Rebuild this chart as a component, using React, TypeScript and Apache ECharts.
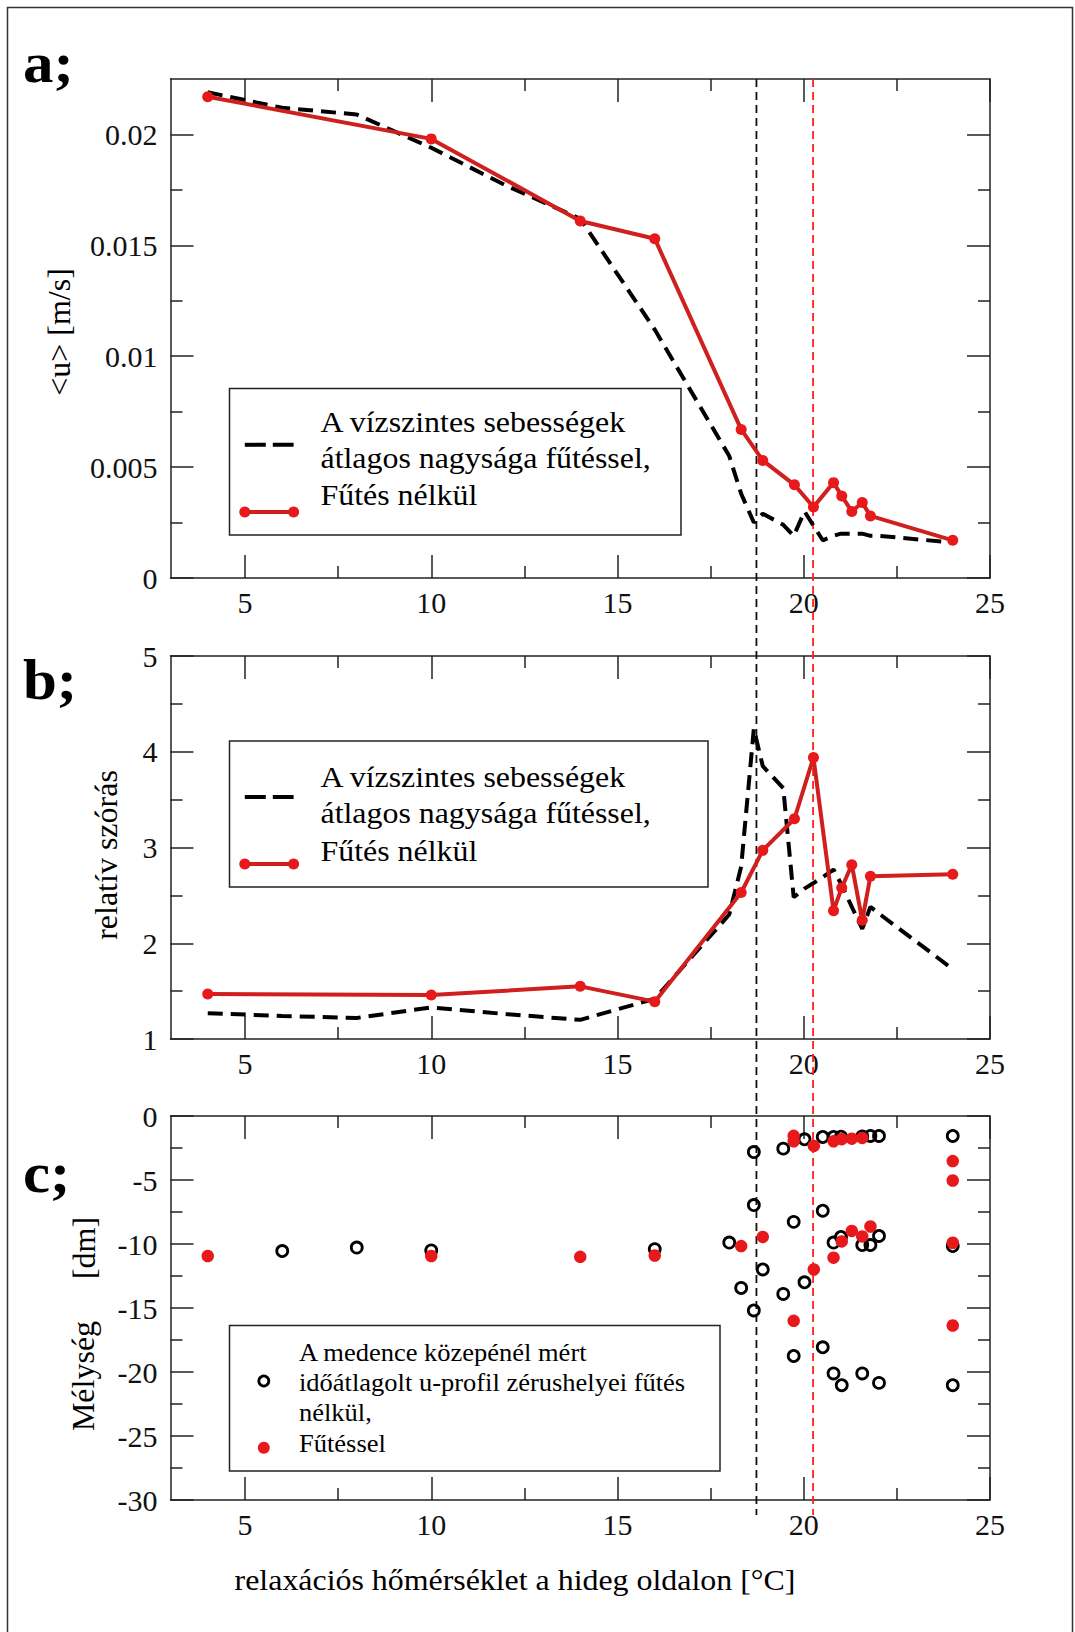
import React, { useEffect, useRef } from "react";
import * as echarts from "echarts";

// ---------- data ----------
const X_MIN = 3;
const X_MAX = 25;
const xMajorTicks = [5, 10, 15, 20, 25];
const xMinorTicks = [7.5, 12.5, 17.5, 22.5];

const aYMajor = [0, 0.005, 0.01, 0.015, 0.02];
const aYMinor = [0.0025, 0.0075, 0.0125, 0.0175];
const bYMajor = [1, 2, 3, 4, 5];
const bYMinor = [1.5, 2.5, 3.5, 4.5];
const cYMajor = [-30, -25, -20, -15, -10, -5, 0];
const cYMinor = [-27.5, -22.5, -17.5, -12.5, -7.5, -2.5];

// "Fűtés nélkül" (red, solid with markers)
const redX = [4, 10, 14, 16, 18.32, 18.9, 19.75, 20.26, 20.8, 21.02, 21.29, 21.57, 21.79, 24];
const aRedY = [0.0217, 0.0198, 0.0161, 0.0153, 0.0067, 0.0053, 0.0042, 0.0032, 0.0043, 0.0037, 0.003, 0.0034, 0.0028, 0.0017];
const bRedY = [1.47, 1.46, 1.55, 1.39, 2.53, 2.97, 3.3, 3.94, 2.34, 2.58, 2.82, 2.24, 2.7, 2.72];

// "fűtéssel" (black dashed)
const blackX = [4, 6, 8, 10, 12, 14, 16, 18, 18.32, 18.66, 18.9, 19.45, 19.73, 20.02, 20.51, 20.8, 21.0, 21.57, 21.79, 22.02, 24];
const aBlackY = [0.0219, 0.0212, 0.0209, 0.0194, 0.0177, 0.0162, 0.0112, 0.0055, 0.0038, 0.0025, 0.0029, 0.0024, 0.0019, 0.003, 0.0017, 0.0019, 0.002, 0.002, 0.0019, 0.0019, 0.0016];
const bBlackY = [1.27, 1.24, 1.22, 1.33, 1.26, 1.2, 1.42, 2.3, 2.8, 4.24, 3.85, 3.62, 2.48, 2.57, 2.69, 2.77, 2.62, 2.15, 2.38, 2.31, 1.73];

// panel c: zero crossings
const cBlackX = [6, 8, 10, 16, 18, 18.32, 18.66, 18.66, 18.66, 18.9, 19.45, 19.45, 19.73, 19.73, 20.02, 20.02, 20.51, 20.51, 20.51, 20.8, 20.8, 20.8, 21.0, 21.0, 21.02, 21.57, 21.57, 21.57, 21.79, 21.79, 22.02, 22.02, 22.02, 24, 24, 24];
const cBlackY = [-10.55, -10.28, -10.5, -10.4, -9.89, -13.43, -2.82, -6.96, -15.19, -11.99, -2.55, -13.9, -8.27, -18.75, -1.82, -12.99, -1.64, -7.4, -18.07, -1.64, -9.89, -20.11, -1.62, -9.45, -21.03, -1.6, -10.08, -20.11, -1.56, -10.08, -1.56, -9.37, -20.85, -1.56, -10.16, -21.03];
const cRedX = [4, 10, 14, 16, 18.32, 18.9, 19.73, 19.73, 19.73, 20.27, 20.27, 20.8, 20.8, 21.02, 21.02, 21.29, 21.29, 21.57, 21.57, 21.79, 24, 24, 24, 24];
const cRedY = [-10.94, -10.94, -11.0, -10.9, -10.16, -9.45, -1.55, -1.97, -16.0, -2.34, -11.99, -1.97, -11.07, -1.81, -9.8, -1.77, -8.98, -1.71, -9.41, -8.63, -3.52, -5.04, -9.9, -16.37];

// vertical reference lines (black, red)
const refLineX = [18.73, 20.25];

// ---------- styles ----------
const FONT = "Liberation Serif";
const AXIS_COLOR = "#222";
const RED_LINE = "#cf1f1f";
const RED_MARK = "#e8191b";

const pairs = (xs: number[], ys: number[]) => xs.map((x, i) => [x, ys[i]]);

const axisLineStyle = { color: AXIS_COLOR, width: 1.5 };

function makeAxes(g: number, isX: boolean, min: number, max: number, major: number[], minor: number[], labelMargin: number) {
  const common: any = { type: "value", gridIndex: g, min, max, splitLine: { show: false }, axisPointer: { show: false } };
  const p1 = isX ? "bottom" : "left";
  const p2 = isX ? "top" : "right";
  return [
    {
      ...common,
      position: p1,
      axisLine: { show: true, onZero: false, lineStyle: axisLineStyle },
      axisTick: { show: true, inside: true, length: 23, customValues: major, lineStyle: axisLineStyle },
      axisLabel: { show: true, customValues: major, fontSize: 30, fontFamily: FONT, fontWeight: "normal", color: "#111", margin: labelMargin },
    },
    {
      ...common,
      position: p1,
      axisLine: { show: false, onZero: false },
      axisTick: { show: true, inside: true, length: 12, customValues: minor, lineStyle: axisLineStyle },
      axisLabel: { show: false },
    },
    {
      ...common,
      position: p2,
      axisLine: { show: true, onZero: false, lineStyle: axisLineStyle },
      axisTick: { show: true, inside: true, length: 23, customValues: major, lineStyle: axisLineStyle },
      axisLabel: { show: false },
    },
    {
      ...common,
      position: p2,
      axisLine: { show: false, onZero: false },
      axisTick: { show: true, inside: true, length: 12, customValues: minor, lineStyle: axisLineStyle },
      axisLabel: { show: false },
    },
  ];
}

function txt(text: string, x: number, y: number, fontSize: number, opts: any = {}) {
  return {
    type: "text",
    x,
    y,
    z: 20,
    rotation: opts.rotation || 0,
    scaleX: opts.scaleX || 1,
    style: {
      text,
      fontSize,
      fontFamily: FONT,
      fontWeight: opts.bold ? "bold" : "normal",
      fill: "#000",
      align: opts.align || "left",
      verticalAlign: "middle",
    },
  };
}

function legendBox(x: number, y: number, w: number, h: number) {
  return {
    type: "rect",
    z: 15,
    shape: { x, y, width: w, height: h },
    style: { fill: "#fff", stroke: "#222", lineWidth: 1.5 },
  };
}

function lineLegend(blackY: number, redY: number, textYs: number[]) {
  const x1 = 244.8;
  const x2 = 293.6;
  return [
    {
      type: "line",
      z: 21,
      shape: { x1, y1: blackY, x2, y2: blackY },
      style: { stroke: "#000", lineWidth: 4, lineDash: [21, 7] },
    },
    {
      type: "line",
      z: 21,
      shape: { x1, y1: redY, x2, y2: redY },
      style: { stroke: RED_LINE, lineWidth: 4 },
    },
    { type: "circle", z: 22, shape: { cx: x1, cy: redY, r: 5.5 }, style: { fill: RED_MARK } },
    { type: "circle", z: 22, shape: { cx: x2, cy: redY, r: 5.5 }, style: { fill: RED_MARK } },
    txt("A vízszintes sebességek", 320.5, textYs[0], 29, { scaleX: 1.1 }),
    txt("átlagos nagysága fűtéssel,", 320.5, textYs[1], 29, { scaleX: 1.1 }),
    txt("Fűtés nélkül", 320.5, textYs[2], 29, { scaleX: 1.1 }),
  ];
}

const GRIDS = [
  { left: 170.5, top: 79, width: 819.5, height: 499 },
  { left: 170.5, top: 656, width: 819.5, height: 383 },
  { left: 170.5, top: 1116, width: 819.5, height: 384 },
];

export default function App() {
  const ref = useRef<HTMLDivElement>(null);

  useEffect(() => {
    document.body.style.margin = "0";
    const chart = echarts.init(ref.current!, undefined, { renderer: "svg" });

    const xAxis = [
      ...makeAxes(0, true, X_MIN, X_MAX, xMajorTicks, xMinorTicks, 9),
      ...makeAxes(1, true, X_MIN, X_MAX, xMajorTicks, xMinorTicks, 9),
      ...makeAxes(2, true, X_MIN, X_MAX, xMajorTicks, xMinorTicks, 9),
    ];
    const yAxis = [
      ...makeAxes(0, false, 0, 0.0225, aYMajor, aYMinor, 13),
      ...makeAxes(1, false, 1, 5, bYMajor, bYMinor, 13),
      ...makeAxes(2, false, -30, 0, cYMajor, cYMinor, 13),
    ];

    const dashedStyle = { color: "#000", width: 4, type: [15, 8] as any, cap: "butt" as any };
    const redLineStyle = { color: RED_LINE, width: 4 };

    const series: any[] = [
      {
        type: "line", xAxisIndex: 0, yAxisIndex: 0, data: pairs(blackX, aBlackY),
        symbol: "none", lineStyle: dashedStyle, z: 3, silent: true,
      },
      {
        type: "line", xAxisIndex: 0, yAxisIndex: 0, data: pairs(redX, aRedY),
        symbol: "circle", symbolSize: 11, lineStyle: redLineStyle, itemStyle: { color: RED_MARK }, z: 4, silent: true,
      },
      {
        type: "line", xAxisIndex: 4, yAxisIndex: 4, data: pairs(blackX, bBlackY),
        symbol: "none", lineStyle: dashedStyle, z: 3, silent: true,
      },
      {
        type: "line", xAxisIndex: 4, yAxisIndex: 4, data: pairs(redX, bRedY),
        symbol: "circle", symbolSize: 11, lineStyle: redLineStyle, itemStyle: { color: RED_MARK }, z: 4, silent: true,
      },
      {
        type: "scatter", xAxisIndex: 8, yAxisIndex: 8, data: pairs(cBlackX, cBlackY),
        symbol: "circle", symbolSize: 11,
        itemStyle: { color: "rgba(255,255,255,0)", borderColor: "#000", borderWidth: 2.8, opacity: 1 }, z: 3, silent: true,
      },
      {
        type: "scatter", xAxisIndex: 8, yAxisIndex: 8, data: pairs(cRedX, cRedY),
        symbol: "circle", symbolSize: 12.5, itemStyle: { color: RED_MARK, opacity: 1 }, z: 4, silent: true,
      },
    ];

    chart.setOption({
      animation: false,
      backgroundColor: "#fff",
      textStyle: { fontFamily: FONT },
      grid: GRIDS.map((g) => ({ ...g, containLabel: false, outerBoundsMode: "none", show: false })),
      xAxis,
      yAxis,
      series,
    });

    // vertical reference lines through the library's scales
    const topY = chart.convertToPixel({ yAxisIndex: 0 } as any, 0.0225) as number;
    const botY = (chart.convertToPixel({ yAxisIndex: 8 } as any, -30) as number) + 15;
    const refColors = ["#111", "#ff1f1f"];
    const vlines = refLineX.map((v, i) => {
      const px = chart.convertToPixel({ xAxisIndex: 0 } as any, v) as number;
      return {
        type: "line",
        z: 1,
        shape: { x1: px, y1: topY, x2: px, y2: botY },
        style: { stroke: refColors[i], lineWidth: 1.8, lineDash: [8, 5] },
      };
    });

    const graphics: any[] = [
      // outer frame
      {
        type: "rect", z: 0,
        shape: { x: 7.5, y: 7.5, width: 1065, height: 1640 },
        style: { fill: "none", stroke: "#333", lineWidth: 1.5 },
      },
      // panel labels
      txt("a;", 23, 62, 58, { bold: true, scaleX: 1.05 }),
      txt("b;", 23, 679, 58, { bold: true, scaleX: 1.05 }),
      txt("c;", 23, 1172, 58, { bold: true, scaleX: 1.05 }),
      // axis names
      txt("<u> [m/s]", 59, 332, 32, { rotation: Math.PI / 2, align: "center" }),
      txt("relatív szórás", 106, 855, 32, { rotation: Math.PI / 2, align: "center" }),
      txt("[dm]", 84, 1248, 32, { rotation: Math.PI / 2, align: "center" }),
      txt("Mélység", 83, 1376, 32, { rotation: Math.PI / 2, align: "center" }),
      txt("relaxációs hőmérséklet a hideg oldalon [°C]", 515, 1580, 29, { align: "center", scaleX: 1.1 }),
      // legend a
      legendBox(229.5, 388.5, 451.5, 146.5),
      ...lineLegend(444.8, 512, [422.2, 458.2, 495.2]),
      // legend b
      legendBox(229.5, 741, 478.5, 146),
      ...lineLegend(797, 864, [777.4, 813.4, 851]),
      // legend c
      legendBox(229.5, 1325.5, 490.5, 145.5),
      {
        type: "circle", z: 22, shape: { cx: 263.8, cy: 1381, r: 5 },
        style: { fill: "#fff", stroke: "#000", lineWidth: 2.8 },
      },
      { type: "circle", z: 22, shape: { cx: 263.8, cy: 1447.7, r: 6 }, style: { fill: RED_MARK } },
      txt("A medence közepénél mért", 299, 1353.2, 25, { scaleX: 1.06 }),
      txt("időátlagolt u-profil zérushelyei fűtés", 299, 1383.2, 25, { scaleX: 1.06 }),
      txt("nélkül,", 299, 1413.2, 25, { scaleX: 1.06 }),
      txt("Fűtéssel", 299, 1444.2, 25, { scaleX: 1.06 }),
      ...vlines,
    ];

    chart.setOption({ graphic: graphics });

    return () => chart.dispose();
  }, []);

  return (
    <div
      ref={ref}
      style={{ position: "absolute", left: 0, top: 0, width: 1075, height: 1632, background: "#fff" }}
    />
  );
}
